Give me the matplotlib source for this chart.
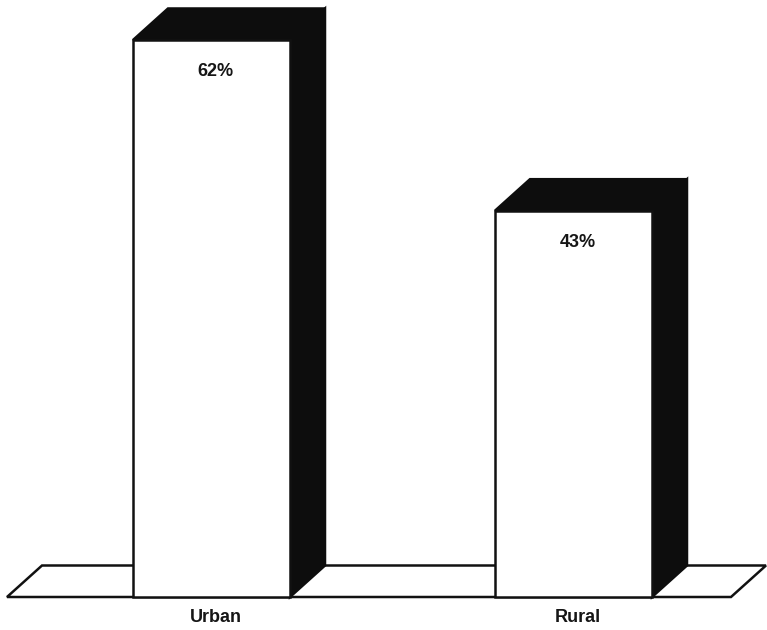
import matplotlib
matplotlib.use("Agg")
import matplotlib.pyplot as plt
from matplotlib.patches import Polygon, Rectangle

# Share of respondents by area
categories = ["Urban", "Rural"]
values = [62, 43]
value_labels = ["62%", "43%"]

W, H = 767, 630
fig = plt.figure(figsize=(W / 100, H / 100), dpi=100)
ax = fig.add_axes([0, 0, 1, 1])

# Scale: one category step = 362 px, one percent = 8.984 px, baseline at y=597 px
step_px = 362.0
pct_px = 8.984
x0_px = 211.5
base_px = 597.0
ax.set_xlim(-x0_px / step_px, (W - x0_px) / step_px)
ax.set_ylim(-(H - base_px) / pct_px, base_px / pct_px)
ax.axis("off")

bar_w = 157 / step_px
dx = 35 / step_px          # oblique depth (horizontal)
dy = 31.5 / pct_px         # oblique depth (vertical)
lw = 1.8

# Floor slab
fl_left = (7 - x0_px) / step_px
fl_right = (731 - x0_px) / step_px
floor = Polygon([(fl_left, 0), (fl_right, 0), (fl_right + dx, dy), (fl_left + dx, dy)],
                closed=True, facecolor="white", edgecolor="#111111", lw=lw, zorder=1,
                joinstyle="miter")
ax.add_patch(floor)

font = dict(family=["Liberation Sans", "DejaVu Sans"], fontweight="bold", color="#161616")

for i, (cat, v, lab) in enumerate(zip(categories, values, value_labels)):
    xl = i - bar_w / 2
    xr = i + bar_w / 2
    # right side face
    side = Polygon([(xr, 0), (xr + dx, dy), (xr + dx, v + dy), (xr, v)],
                   closed=True, facecolor="#0d0d0d", edgecolor="#0d0d0d", lw=lw, zorder=2)
    # top face
    top = Polygon([(xl, v), (xr, v), (xr + dx, v + dy), (xl + dx, v + dy)],
                  closed=True, facecolor="#0d0d0d", edgecolor="#0d0d0d", lw=lw, zorder=2)
    # front face
    front = Rectangle((xl, 0), bar_w, v, facecolor="white", edgecolor="#111111",
                      lw=lw, zorder=3, joinstyle="miter")
    ax.add_patch(side)
    ax.add_patch(top)
    ax.add_patch(front)

    ax.text(i + 0.012, v - 3.5, lab, ha="center", va="center", fontsize=13, zorder=4, **font)
    ax.text(i + 0.012, -2.3, cat, ha="center", va="center", fontsize=13, zorder=4, **font)

fig.savefig("out.png", dpi=100, facecolor="white")
